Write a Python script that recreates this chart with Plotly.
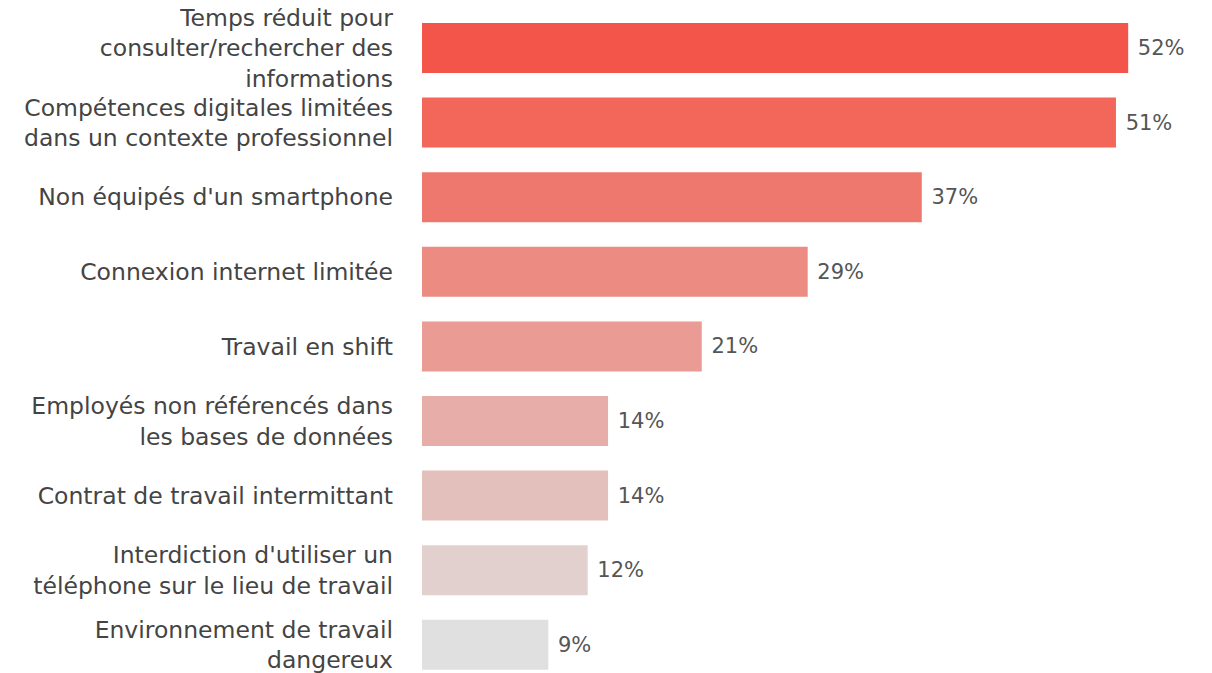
import plotly.graph_objects as go

categories = [
    "Temps réduit pour<br>consulter/rechercher des<br>informations",
    "Compétences digitales limitées<br>dans un contexte professionnel",
    "Non équipés d'un smartphone",
    "Connexion internet limitée",
    "Travail en shift",
    "Employés non référencés dans<br>les bases de données",
    "Contrat de travail intermittant",
    "Interdiction d'utiliser un<br>téléphone sur le lieu de travail",
    "Environnement de travail<br>dangereux",
]
values = [52.0, 51.1, 36.8, 28.4, 20.6, 13.7, 13.7, 12.2, 9.3]
labels = ["52%", "51%", "37%", "29%", "21%", "14%", "14%", "12%", "9%"]
colors = ["#f4554a", "#f26759", "#ef786e", "#ec8b82", "#e99b94", "#e7aea9",
          "#e4c0bd", "#e2d0cf", "#e0e0e0"]

fig = go.Figure(
    go.Bar(
        x=values,
        y=categories,
        orientation="h",
        marker=dict(color=colors, line=dict(width=0)),
        width=0.67,
        text=labels,
        texttemplate="\u00a0%{text}",
        textposition="outside",
        textfont=dict(family="DejaVu Sans, sans-serif", size=21, color="#555555"),
        cliponaxis=False,
        hoverinfo="skip",
    )
)

# page body has an 8px margin, so the plot area is shifted back by 8px
fig.update_layout(
    width=1212,
    height=673,
    margin=dict(l=414, r=0, t=0, b=0),
    paper_bgcolor="white",
    plot_bgcolor="white",
    font=dict(family="DejaVu Sans, sans-serif", size=22, color="#444444"),
    showlegend=False,
    xaxis=dict(range=[0, 58.76], visible=False, automargin=False),
    yaxis=dict(
        range=[8.485, -0.536],
        automargin=False,
        showgrid=False,
        zeroline=False,
        showline=False,
        ticks="",
        ticklabelstandoff=28,
        tickfont=dict(size=23.5, color="#444444"),
    ),
)

fig.write_html("out.html")
